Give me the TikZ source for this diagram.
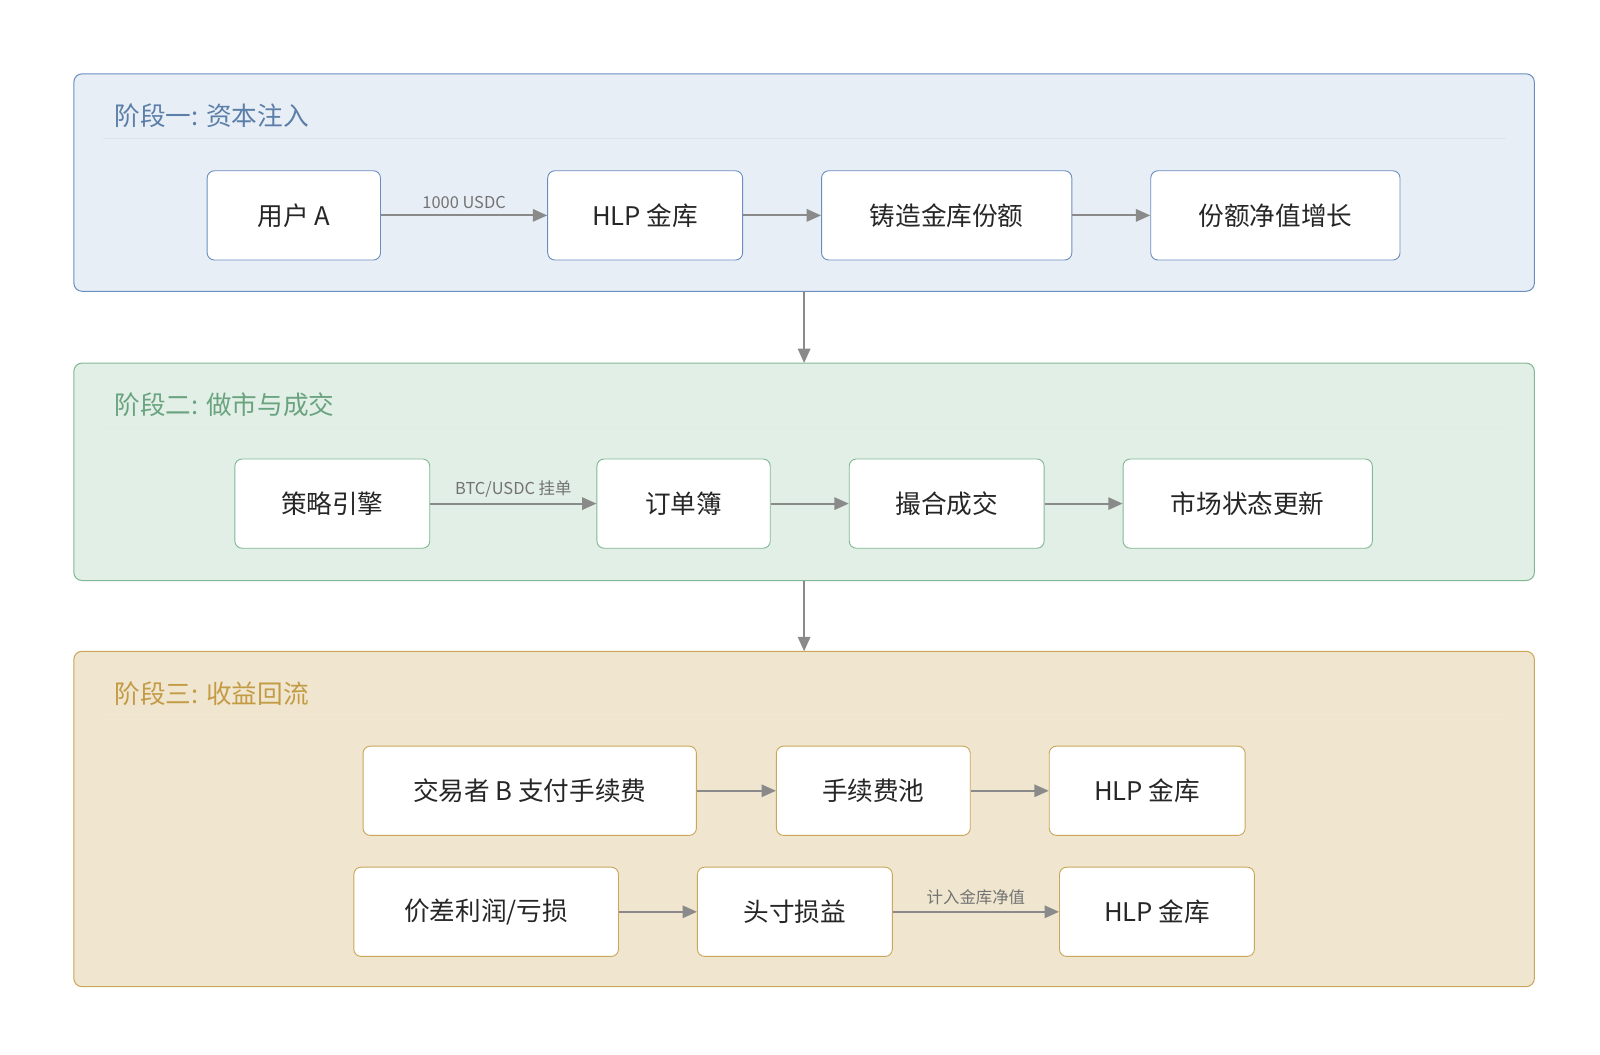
\documentclass[tikz,border=0pt]{standalone}
\usepackage{fontspec}
\setmainfont{Noto Sans CJK SC}
\usetikzlibrary{arrows.meta}
\definecolor{panelA}{HTML}{E8EEF6}\definecolor{lineA}{HTML}{6C8EBF}\definecolor{textA}{HTML}{5B7FA8}
\definecolor{panelB}{HTML}{E2EFE6}\definecolor{lineB}{HTML}{82B894}\definecolor{textB}{HTML}{6AA37F}
\definecolor{panelC}{HTML}{F0E6CF}\definecolor{lineC}{HTML}{C9A65A}\definecolor{textC}{HTML}{C39B45}
\definecolor{flow}{HTML}{8A8A8A}
\tikzset{
  panel/.style={rounded corners=8pt, line width=1pt},
  box/.style={draw=#1, fill=white, rounded corners=7pt, line width=0.9pt, minimum height=87pt, font=\fontsize{25}{30}\selectfont, text=black!85},
  flowarrow/.style={draw=flow, line width=2pt, -{Triangle[length=14pt,width=12pt]}},
  flowlabel/.style={font=\fontsize{16}{19}\selectfont, text=black!55},
  heading/.style={anchor=west, font=\fontsize{25}{30}\selectfont}
}
\begin{document}
\begin{tikzpicture}[x=1pt,y=-1pt]
\useasboundingbox (0,0) rectangle (1560,1028.6);

%阶段一

\draw[panel, fill=panelA, draw=lineA] (72,72) rectangle (1496,284);
\node[heading, text=textA] (t1) at (108,113) {阶段一: 资本注入};
\draw[lineA!25, line width=0.8pt] (100,135) -- (1468,135);
\node[box=lineA, minimum width=169pt] (userA) at (286.5,210) {用户 A};
\node[box=lineA, minimum width=190pt] (vaultA) at (629,210) {HLP 金库};
\node[box=lineA, minimum width=244pt] (mint) at (923,210) {铸造金库份额};
\node[box=lineA, minimum width=243pt] (nav) at (1243.5,210) {份额净值增长};
\draw[flowarrow] (userA) -- (vaultA) node[midway, above=2pt, flowlabel] {1000 USDC};
\draw[flowarrow] (vaultA) -- (mint);
\draw[flowarrow] (mint) -- (nav);

%阶段二

\draw[panel, fill=panelB, draw=lineB] (72,354) rectangle (1496,566);
\node[heading, text=textB] (t2) at (108,395) {阶段二: 做市与成交};
\draw[lineB!25, line width=0.8pt] (100,417) -- (1468,417);
\node[box=lineB, minimum width=190pt] (engine) at (324,491) {策略引擎};
\node[box=lineB, minimum width=169pt] (book) at (666.5,491) {订单簿};
\node[box=lineB, minimum width=190pt] (match) at (923,491) {撮合成交};
\node[box=lineB, minimum width=243pt] (state) at (1216.5,491) {市场状态更新};
\draw[flowarrow] (engine) -- (book) node[midway, above=2pt, flowlabel] {BTC/USDC 挂单};
\draw[flowarrow] (book) -- (match);
\draw[flowarrow] (match) -- (state);

%阶段三

\draw[panel, fill=panelC, draw=lineC] (72,635) rectangle (1496,962);
\node[heading, text=textC] (t3) at (108,676) {阶段三: 收益回流};
\draw[lineC!25, line width=0.8pt] (100,697) -- (1468,697);
\node[box=lineC, minimum width=325pt] (fee) at (516.5,771) {交易者 B 支付手续费};
\node[box=lineC, minimum width=189pt] (pool) at (851.5,771) {手续费池};
\node[box=lineC, minimum width=191pt] (vaultB) at (1118.5,771) {HLP 金库};
\node[box=lineC, minimum width=258pt] (spread) at (474,889) {价差利润/亏损};
\node[box=lineC, minimum width=190pt] (pnl) at (775,889) {头寸损益};
\node[box=lineC, minimum width=190pt] (vaultC) at (1128,889) {HLP 金库};
\draw[flowarrow] (fee) -- (pool);
\draw[flowarrow] (pool) -- (vaultB);
\draw[flowarrow] (spread) -- (pnl);
\draw[flowarrow] (pnl) -- (vaultC) node[midway, above=2pt, flowlabel] {计入金库净值};

%阶段之间

\coordinate (s1) at (784,284);
\coordinate (s2) at (784,354);
\coordinate (s3) at (784,566);
\coordinate (s4) at (784,635);
\draw[flowarrow] (s1) -- (s2);
\draw[flowarrow] (s3) -- (s4);
\end{tikzpicture}
\end{document}
